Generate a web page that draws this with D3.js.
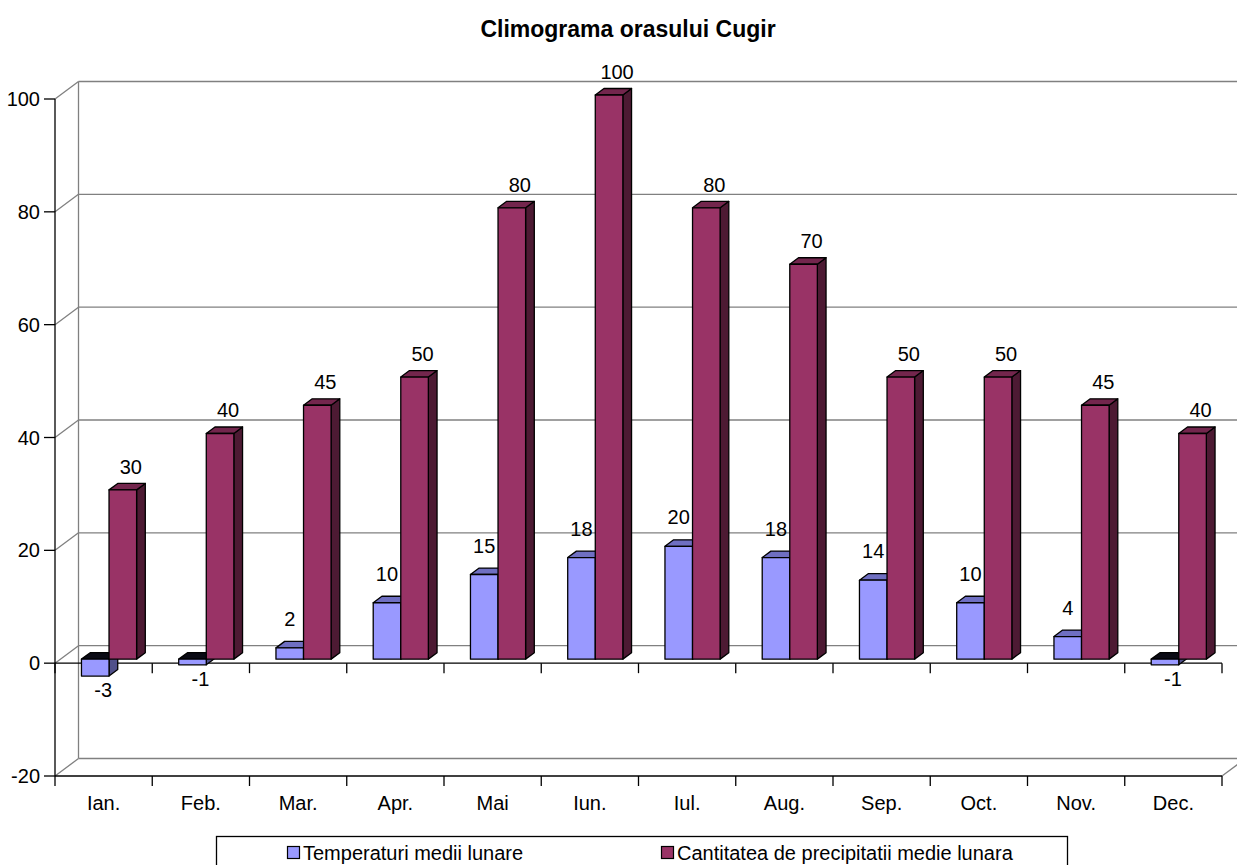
<!DOCTYPE html>
<html>
<head>
<meta charset="utf-8">
<script src="https://cdn.jsdelivr.net/npm/d3@7"></script>
<style>
  html, body { margin: 0; padding: 0; background: #fff; }
  svg { display: block; }
  text { font-family: "Liberation Sans", Arial, sans-serif; fill: #000; }
</style>
</head>
<body>
<svg id="chart" width="1237" height="865"></svg>
<script>
// Monthly climate data for Cugir
const months = ["Ian.", "Feb.", "Mar.", "Apr.", "Mai", "Iun.", "Iul.", "Aug.", "Sep.", "Oct.", "Nov.", "Dec."];
const temperatures = [-3, -1, 2, 10, 15, 18, 20, 18, 14, 10, 4, -1];
const precipitation = [30, 40, 45, 50, 80, 100, 80, 70, 50, 50, 45, 40];
const yTicks = [-20, 0, 20, 40, 60, 80, 100];
const seriesNames = ["Temperaturi medii lunare", "Cantitatea de precipitatii medie lunara"];
const chartTitle = "Climograma orasului Cugir";

// Colours per series: front face, top face, side face, underside
const styles = [
  { front: "#9999FF", top: "#6F6FC2", side: "#50508A", under: "#0A0A14", labelDx: 0, labelDy: -29 },
  { front: "#993366", top: "#73264D", side: "#4D1A33", under: "#1A0A12", labelDx: 8, labelDy: -23 }
];

const svg = d3.select("#chart");
const W = 1237, H = 865;
const FS = 20;

// 3D frame: front plane and depth offset to the back wall
const left = 55, right = 1222;
const DX = 23.5, DY = 17.5;
const z0 = 0.23, z1 = 0.6; // depth extent of the columns

const y = d3.scaleLinear().domain([-20, 100]).range([776, 99]);
const x = d3.scaleBand().domain(months).range([left, right]).padding(0);
const step = x.step();
const xs = d3.scaleBand().domain(d3.range(2)).range([step * 0.2165, step * 0.7835]).padding(0);

const P = (px, v, z) => [px + z * DX, y(v) - z * DY];
const poly = pts => "M" + pts.map(p => p.join(",")).join("L") + "Z";

const root = svg.append("g");

// Back wall gridlines and side-wall diagonals
const grid = root.append("g").attr("stroke", "#808080").attr("stroke-width", 1.3).attr("fill", "none");
yTicks.forEach(t => {
  const [bx, by] = P(left, t, 1);
  grid.append("line").attr("x1", bx).attr("y1", by).attr("x2", right + DX).attr("y2", by);
  grid.append("line").attr("x1", left).attr("y1", y(t)).attr("x2", bx).attr("y2", by);
});
// Back wall vertical edge
grid.append("line")
  .attr("x1", left + DX).attr("y1", P(left, 100, 1)[1])
  .attr("x2", left + DX).attr("y2", P(left, -20, 1)[1]);
// Floor right edge
grid.append("line")
  .attr("x1", right).attr("y1", y(-20))
  .attr("x2", right + DX).attr("y2", y(-20) - DY);

// Front axes
const axes = root.append("g").attr("stroke", "#000").attr("stroke-width", 1.3);
axes.append("line").attr("x1", left).attr("y1", y(100)).attr("x2", left).attr("y2", y(-20));
yTicks.forEach(t => {
  axes.append("line").attr("x1", left - 11).attr("y1", y(t)).attr("x2", left).attr("y2", y(t));
});
[0, -20].forEach(level => {
  axes.append("line").attr("x1", left).attr("y1", y(level)).attr("x2", right).attr("y2", y(level));
  months.forEach(m => {
    const tx = x(m) + step;
    axes.append("line").attr("x1", tx).attr("y1", y(level)).attr("x2", tx).attr("y2", y(level) + 10);
  });
  axes.append("line").attr("x1", left).attr("y1", y(level)).attr("x2", left).attr("y2", y(level) + 10);
});

// Y tick labels
root.append("g").selectAll("text").data(yTicks).join("text")
  .attr("x", left - 15).attr("y", d => y(d))
  .attr("text-anchor", "end").attr("dominant-baseline", "central")
  .attr("font-size", FS)
  .text(d => d);

// Category labels
root.append("g").selectAll("text").data(months).join("text")
  .attr("x", d => x(d) + step / 2).attr("y", y(-20) + 27)
  .attr("text-anchor", "middle").attr("dominant-baseline", "central")
  .attr("font-size", FS)
  .text(d => d);

// Columns
const seriesData = [temperatures, precipitation];
const bars = root.append("g").attr("stroke", "#000").attr("stroke-width", 1.3).attr("stroke-linejoin", "round");
months.forEach((m, i) => {
  seriesData.forEach((vals, s) => {
    const v = vals[i];
    const st = styles[s];
    const xa = x(m) + xs(s), xb = xa + xs.bandwidth();
    const hi = Math.max(v, 0), lo = Math.min(v, 0);
    const g = bars.append("g");
    // right side face
    g.append("path").attr("fill", st.side)
      .attr("d", poly([P(xb, hi, z0), P(xb, hi, z1), P(xb, lo, z1), P(xb, lo, z0)]));
    // top face (dark when seen at the zero plane of a negative column)
    g.append("path").attr("fill", v < 0 ? st.under : st.top)
      .attr("d", poly([P(xa, hi, z0), P(xa, hi, z1), P(xb, hi, z1), P(xb, hi, z0)]));
    // front face
    g.append("path").attr("fill", st.front)
      .attr("d", poly([P(xa, hi, z0), P(xb, hi, z0), P(xb, lo, z0), P(xa, lo, z0)]));
  });
});

// Data labels
const labels = root.append("g").attr("font-size", FS).attr("text-anchor", "middle").attr("dominant-baseline", "central");
months.forEach((m, i) => {
  seriesData.forEach((vals, s) => {
    const v = vals[i];
    const st = styles[s];
    const cx = x(m) + xs(s) + xs.bandwidth() / 2;
    const [fx, fy] = P(cx, v, z0);
    if (v >= 0) {
      labels.append("text").attr("x", fx + st.labelDx).attr("y", fy + st.labelDy).text(v);
    } else {
      labels.append("text").attr("x", fx + 8).attr("y", fy + 14).text(v);
    }
  });
});

// Title
svg.append("text")
  .attr("x", 628).attr("y", 29)
  .attr("text-anchor", "middle").attr("dominant-baseline", "central")
  .attr("font-size", 23).attr("font-weight", "bold")
  .text(chartTitle);

// Legend
const legend = svg.append("g");
legend.append("rect")
  .attr("x", 216.5).attr("y", 836.5).attr("width", 851).attr("height", 40)
  .attr("fill", "#fff").attr("stroke", "#000").attr("stroke-width", 1.3);
const lx = d3.scaleBand().domain(d3.range(2)).range([287, 1035]);
seriesNames.forEach((name, s) => {
  const gx = lx(s);
  legend.append("rect").attr("x", gx + 0.5).attr("y", 846.5).attr("width", 12).attr("height", 12)
    .attr("fill", styles[s].front).attr("stroke", "#000").attr("stroke-width", 1.2);
  legend.append("text").attr("x", gx + 16).attr("y", 853)
    .attr("dominant-baseline", "central").attr("font-size", FS)
    .text(name);
});
</script>
</body>
</html>
